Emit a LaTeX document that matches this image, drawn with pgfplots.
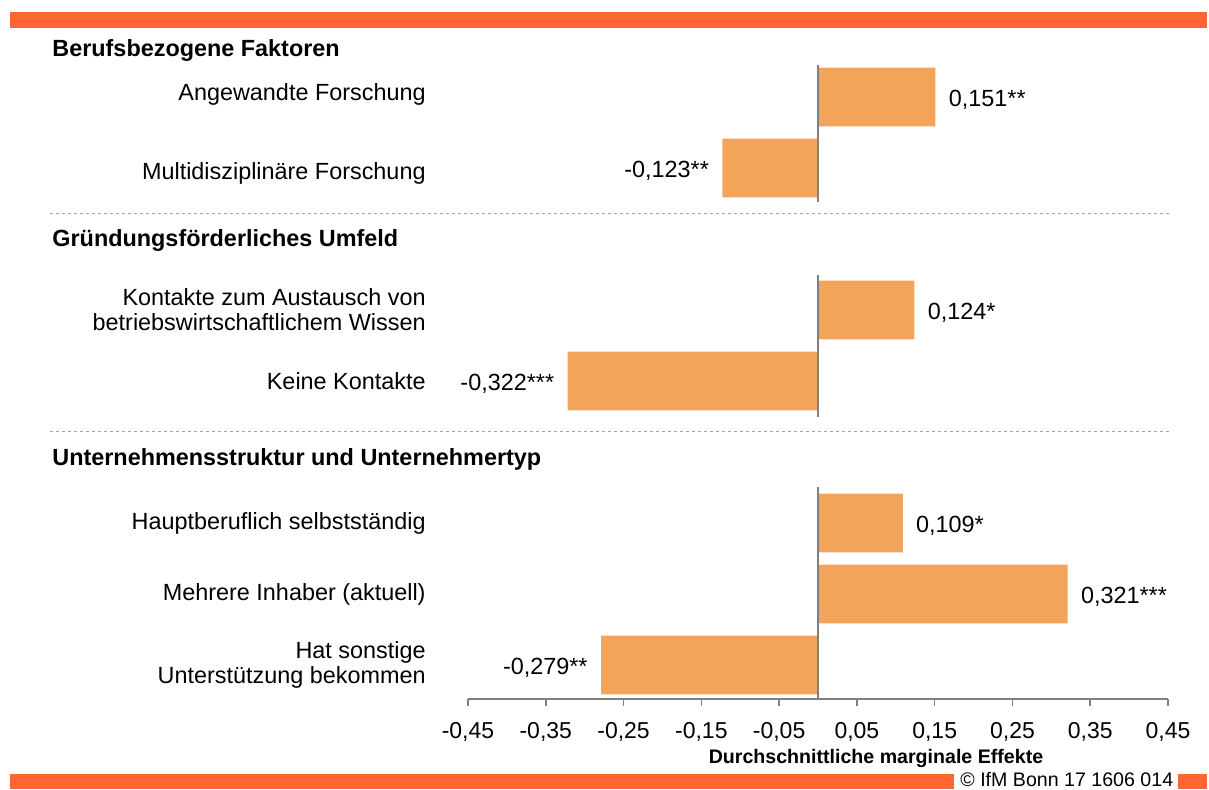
\documentclass[border=0pt]{standalone}
\usepackage{pgfplots}
\pgfplotsset{compat=1.18}
\usepackage{fontspec}
\setmainfont{Liberation Sans}
\definecolor{barc}{HTML}{F4A35A}
\definecolor{topc}{HTML}{FF6633}
\definecolor{axc}{HTML}{808080}
\definecolor{dashc}{HTML}{A6A6A6}
\newcommand{\lf}{\fontsize{11.7pt}{12.4pt}\selectfont}
\pgfplotstableread{
x y lab
0.151 9 0,151**
0.124 6 0,124*
0.109 3 0,109*
0.321 2 0,321***
}\pos
\pgfplotstableread{
x y lab
-0.123 8 -0,123**
-0.322 5 -0,322***
-0.279 1 -0,279**
}\negv
\begin{document}
\begin{tikzpicture}
\begin{scope}[x=0.5pt,y=-0.5pt,yshift=394.5pt]
\path[use as bounding box] (0,0) rectangle (1209,789);
\fill[topc] (10,12) rectangle (1207,28);
\fill[topc] (10,774) rectangle (954,789);
\fill[topc] (1178,774) rectangle (1207,789);
\node[anchor=base west, inner sep=0pt, font=\fontsize{9.8pt}{11pt}\selectfont] at (960,786) {\textcopyright{} IfM Bonn 17 1606 014};
\node[anchor=base west, inner sep=0pt, font=\lf\bfseries] at (52,57) {Berufsbezogene Faktoren};
\node[anchor=base west, inner sep=0pt, font=\lf\bfseries] at (52,246) {Gründungsförderliches Umfeld};
\node[anchor=base west, inner sep=0pt, font=\lf\bfseries] at (52,465) {Unternehmensstruktur und Unternehmertyp};
\draw[dashc, line width=0.5pt, dash pattern=on 1.5pt off 1.5pt] (50,213) -- (1170,213);
\draw[dashc, line width=0.5pt, dash pattern=on 1.5pt off 1.5pt] (50,431) -- (1170,431);
\node[anchor=base, inner sep=0pt, font=\fontsize{9.8pt}{11pt}\selectfont\bfseries] at (876,763) {Durchschnittliche marginale Effekte};
\end{scope}
\begin{axis}[
  at={(234pt,45pt)}, anchor=south west,
  scale only axis, width=350pt, height=336.5pt,
  xmin=-0.45, xmax=0.45, ymin=0.521, ymax=10,
  axis x line*=bottom, axis y line*=left,
  y axis line style={draw=none},
  x axis line style={axc, line width=0.8pt},
  xtick={-0.45,-0.35,-0.25,-0.15,-0.05,0.05,0.15,0.25,0.35,0.45},
  xticklabels={{-0,45},{-0,35},{-0,25},{-0,15},{-0,05},{0,05},{0,15},{0,25},{0,35},{0,45}},
  xtick style={axc, line width=0.8pt},
  tick align=outside, major tick length=3.5pt,
  xticklabel style={font=\fontsize{11.5pt}{12pt}\selectfont, anchor=base, inner sep=0pt, yshift=-16pt},
  ytick={1,2,3,5,6,8,9},
  yticklabels={{Hat sonstige\\Unterstützung bekommen},{Mehrere Inhaber (aktuell)},{Hauptberuflich selbstständig},{Keine Kontakte},{Kontakte zum Austausch von\\betriebswirtschaftlichem Wissen},{\raisebox{-2.5pt}[\height][\depth]{Multidisziplinäre Forschung}},{\raisebox{5pt}{Angewandte Forschung}}},
  ytick style={draw=none},
  yticklabel style={font=\lf, align=right, anchor=east, inner sep=0pt, xshift=-17.5pt},
  clip=false,
]
\addplot[xbar, bar shift=0pt, fill=barc, draw=none, bar width=0.83,
  nodes near coords, point meta=explicit symbolic,
  every node near coord/.style={font=\lf, text=black, anchor=west, inner xsep=6.5pt, inner ysep=0pt, yshift=-1.5pt}]
  table[x=x, y=y, meta=lab] {\pos};
\addplot[xbar, bar shift=0pt, fill=barc, draw=none, bar width=0.83,
  nodes near coords, point meta=explicit symbolic,
  every node near coord/.style={font=\lf, text=black, anchor=east, inner xsep=6.5pt, inner ysep=0pt, yshift=-1.5pt}]
  table[x=x, y=y, meta=lab] {\negv};
\draw[axc, line width=1pt] (axis cs:0,9.451) -- (axis cs:0,7.521);
\draw[axc, line width=1pt] (axis cs:0,6.493) -- (axis cs:0,4.493);
\draw[axc, line width=1pt] (axis cs:0,3.507) -- (axis cs:0,0.521);
\end{axis}
\end{tikzpicture}
\end{document}
